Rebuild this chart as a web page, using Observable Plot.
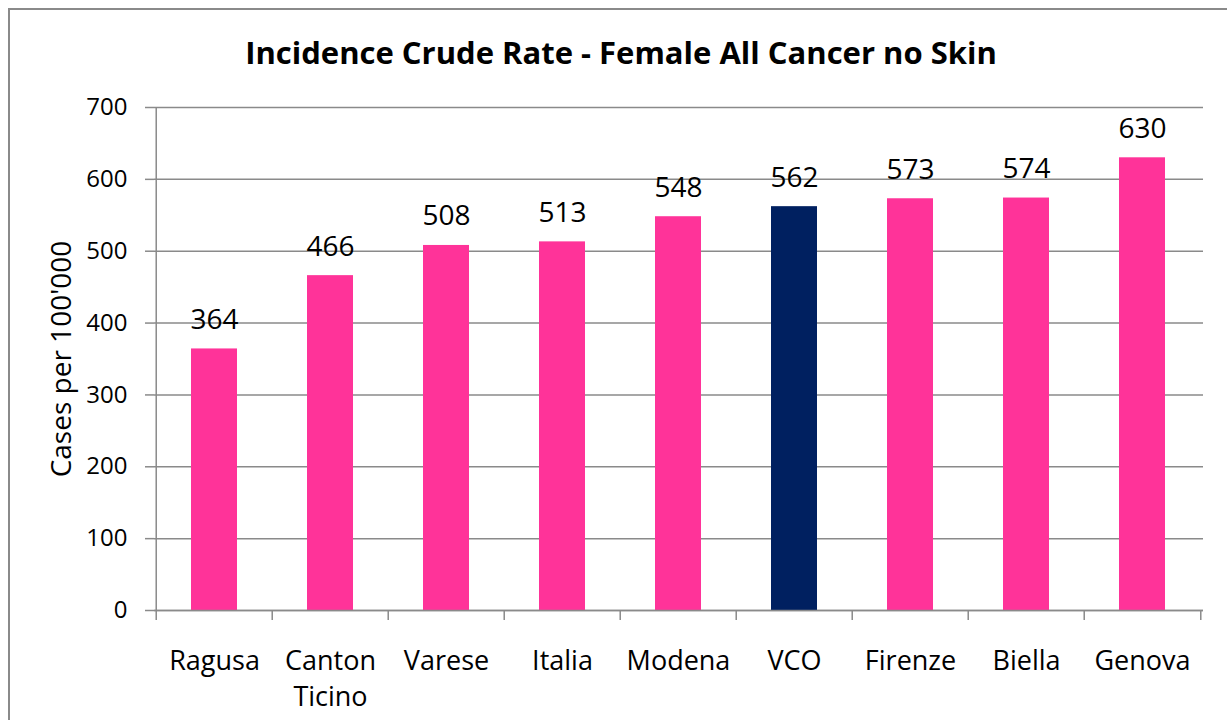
<!DOCTYPE html>
<html><head><meta charset="utf-8">
<script src="https://cdn.jsdelivr.net/npm/d3@7"></script>
<script src="https://cdn.jsdelivr.net/npm/@observablehq/plot@0.6"></script>
<style>
body{margin:0;background:#fff;width:1227px;height:720px;overflow:hidden;position:relative;font-family:"Open Sans",sans-serif}
#border{position:absolute;left:8px;top:8px;width:1300px;height:800px;border:2px solid #8a8a8a;box-sizing:border-box}
#title{position:absolute;left:0;top:31px;width:1242px;text-align:center;font-weight:bold;font-size:31px;line-height:42px;color:#000}
#chart{position:absolute;left:0;top:80px}
</style></head><body>
<div id="border"></div>
<div id="title">Incidence Crude Rate - Female All Cancer no Skin</div>
<div id="chart"></div>
<script>
const categories = ["Ragusa", "Canton\nTicino", "Varese", "Italia", "Modena", "VCO", "Firenze", "Biella", "Genova"];
const values = [364, 466, 508, 513, 548, 562, 573, 574, 630];
const highlighted = ["VCO"];
const yTicks = [0, 100, 200, 300, 400, 500, 600, 700];
const yLabel = "Cases per 100'000";

const data = categories.map((c, i) => ({cat: c, value: values[i], group: highlighted.includes(c) ? "VCO" : "other"}));

const W = 1227, ML = 154, MR = 24;
const step = (W - ML - MR) / categories.length;
const gray = "#8a8a8a";
const font = "'Open Sans', sans-serif";

const chart = Plot.plot({
  width: W,
  height: 640,
  marginLeft: ML,
  marginRight: MR,
  marginTop: 27,
  marginBottom: 110,
  style: {fontFamily: font, background: "transparent", overflow: "visible"},
  x: {domain: categories, paddingInner: 0.6, paddingOuter: 0.3, axis: null},
  y: {domain: [0, 700], axis: null},
  color: {domain: ["other", "VCO"], range: ["#FF3399", "#002060"]},
  marks: [
    Plot.gridY(yTicks, {stroke: gray, strokeOpacity: 1, strokeWidth: 1.5}),
    Plot.barY(data, {x: "cat", y: "value", fill: "group"}),
    Plot.ruleY([0], {stroke: gray, strokeWidth: 1.5}),
    Plot.ruleX([categories[0]], {dx: -step / 2, stroke: gray, strokeWidth: 1.5}),
    Plot.ruleX(categories, {x: d => d, dx: -step / 2, y1: 0, y2: 0, insetBottom: -10, stroke: gray, strokeWidth: 1.5}),
    Plot.ruleX([categories[categories.length - 1]], {x: d => d, dx: step / 2, y1: 0, y2: 0, insetBottom: -10, stroke: gray, strokeWidth: 1.5}),
    Plot.axisY(yTicks, {tickSize: 9, tickPadding: 18, fontSize: 24, stroke: gray, strokeWidth: 1.5, strokeOpacity: 1, fill: "#000", label: null}),
    Plot.axisX({tickSize: 0, tickPadding: 35, fontSize: 27, lineHeight: 1.3, fill: "#000", label: null}),
    Plot.text(data, {x: "cat", y: "value", text: d => String(d.value), dy: -20, lineAnchor: "bottom", fontSize: 28, fill: "#000"}),
    Plot.text([yLabel], {frameAnchor: "left", textAnchor: "middle", rotate: -90, dx: -92, fontSize: 28, fill: "#000"})
  ]
});
document.getElementById("chart").appendChild(chart);
</script>
</body></html>
